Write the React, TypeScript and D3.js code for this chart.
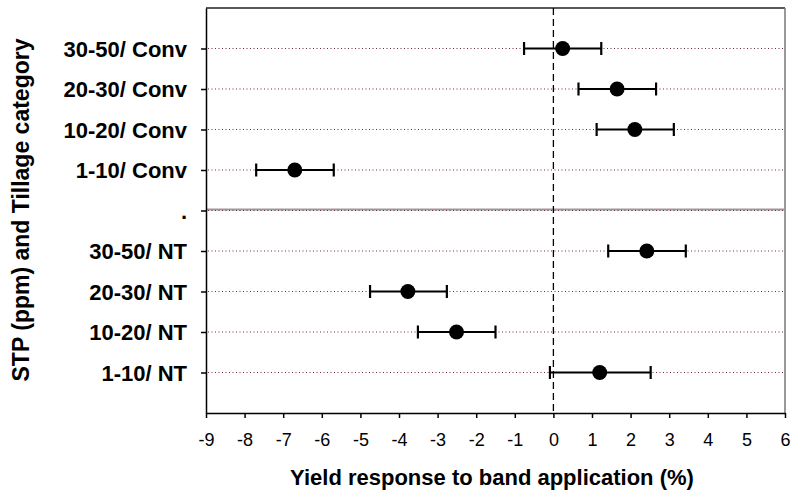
import { useEffect, useRef } from "react";
import * as d3 from "d3";

const categories = [
  "30-50/ Conv",
  "20-30/ Conv",
  "10-20/ Conv",
  "1-10/ Conv",
  ".",
  "30-50/ NT",
  "20-30/ NT",
  "10-20/ NT",
  "1-10/ NT",
];
const means: (number | null)[] = [0.24, 1.65, 2.11, -6.7, null, 2.42, -3.77, -2.51, 1.2];
const lower: (number | null)[] = [-0.76, 0.65, 1.12, -7.7, null, 1.42, -4.75, -3.51, -0.09];
const upper: (number | null)[] = [1.24, 2.66, 3.12, -5.69, null, 3.43, -2.76, -1.5, 2.52];
const xTicks = [-9, -8, -7, -6, -5, -4, -3, -2, -1, 0, 1, 2, 3, 4, 5, 6];

const W = 791;
const H = 493;
const M = { top: 8, right: 6, bottom: 80, left: 206 };
const FONT = "Liberation Sans, Arial, Helvetica, sans-serif";

export default function App() {
  const svgRef = useRef<SVGSVGElement>(null);

  useEffect(() => {
    const svg = d3.select(svgRef.current);
    svg.selectAll("*").remove();

    const x = d3.scaleLinear().domain([-9, 6]).range([M.left, W - M.right]);
    const y = d3.scalePoint<string>().domain(categories).range([M.top, H - M.bottom]).padding(1);

    // frame (top + right)
    svg.append("line")
      .attr("x1", M.left).attr("x2", W - M.right)
      .attr("y1", M.top).attr("y2", M.top)
      .attr("stroke", "#222").attr("stroke-width", 1.5);
    svg.append("line")
      .attr("x1", W - M.right).attr("x2", W - M.right)
      .attr("y1", M.top).attr("y2", H - M.bottom)
      .attr("stroke", "#777").attr("stroke-width", 1.5);

    // separator between tillage groups
    svg.append("line")
      .attr("x1", M.left).attr("x2", W - M.right)
      .attr("y1", y(".")! - 1).attr("y2", y(".")! - 1)
      .attr("stroke", "#999").attr("stroke-width", 2);

    // dotted grid lines
    svg.append("g")
      .selectAll("line")
      .data(categories)
      .join("line")
      .attr("x1", M.left + 2).attr("x2", W - M.right)
      .attr("y1", d => y(d)!).attr("y2", d => y(d)!)
      .attr("stroke", "#6a2a40")
      .attr("stroke-width", 1)
      .attr("stroke-dasharray", "1,2.5");

    // zero line
    svg.append("line")
      .attr("x1", x(0)).attr("x2", x(0))
      .attr("y1", M.top).attr("y2", H - M.bottom)
      .attr("stroke", "#000").attr("stroke-width", 1.3)
      .attr("stroke-dasharray", "7,4");

    // x axis
    const xa = svg.append("g")
      .attr("transform", `translate(0,${H - M.bottom})`)
      .call(d3.axisBottom(x).tickValues(xTicks).tickSize(5).tickSizeOuter(0).tickPadding(15)
        .tickFormat(d => String(d)));
    xa.select(".domain").attr("stroke", "#000").attr("stroke-width", 1.5);
    xa.selectAll("line").attr("stroke", "#000").attr("stroke-width", 1.5);
    xa.selectAll("text")
      .attr("font-family", FONT).attr("font-size", 18).attr("fill", "#000");

    // y axis
    const ya = svg.append("g")
      .attr("transform", `translate(${M.left},0)`)
      .call(d3.axisLeft(y).tickSize(5).tickSizeOuter(0).tickPadding(14));
    ya.select(".domain").attr("stroke", "#000").attr("stroke-width", 1.5);
    ya.selectAll("line").attr("stroke", "#000").attr("stroke-width", 1.5);
    ya.selectAll("text")
      .attr("font-family", FONT).attr("font-size", 22).attr("font-weight", "bold").attr("fill", "#000")
      .attr("dy", "0.36em");

    // error bars + points
    const rows = categories
      .map((c, i) => ({ c, m: means[i], lo: lower[i], hi: upper[i] }))
      .filter(r => r.m !== null);

    const g = svg.append("g");
    g.selectAll("line.bar")
      .data(rows)
      .join("line")
      .attr("class", "bar")
      .attr("x1", d => x(d.lo!)).attr("x2", d => x(d.hi!))
      .attr("y1", d => y(d.c)!).attr("y2", d => y(d.c)!)
      .attr("stroke", "#000").attr("stroke-width", 2.2);
    for (const key of ["lo", "hi"] as const) {
      g.selectAll(`line.cap-${key}`)
        .data(rows)
        .join("line")
        .attr("class", `cap-${key}`)
        .attr("x1", d => x(d[key]!)).attr("x2", d => x(d[key]!))
        .attr("y1", d => y(d.c)! - 6.5).attr("y2", d => y(d.c)! + 6.5)
        .attr("stroke", "#000").attr("stroke-width", 2.2);
    }
    g.selectAll("circle")
      .data(rows)
      .join("circle")
      .attr("cx", d => x(d.m!))
      .attr("cy", d => y(d.c)!)
      .attr("r", 7.5)
      .attr("fill", "#000");

    // axis titles
    svg.append("text")
      .attr("x", 492).attr("y", 485)
      .attr("text-anchor", "middle")
      .attr("font-family", FONT).attr("font-size", 22).attr("font-weight", "bold")
      .text("Yield response to band application (%)");
    svg.append("text")
      .attr("transform", "translate(29,210) rotate(-90)")
      .attr("text-anchor", "middle")
      .attr("font-family", FONT).attr("font-size", 23).attr("font-weight", "bold")
      .text("STP (ppm) and Tillage category");
  }, []);

  return (
    <svg
      ref={svgRef}
      width={W}
      height={H}
      style={{ position: "absolute", left: 0, top: 0, background: "#fff" }}
    />
  );
}
